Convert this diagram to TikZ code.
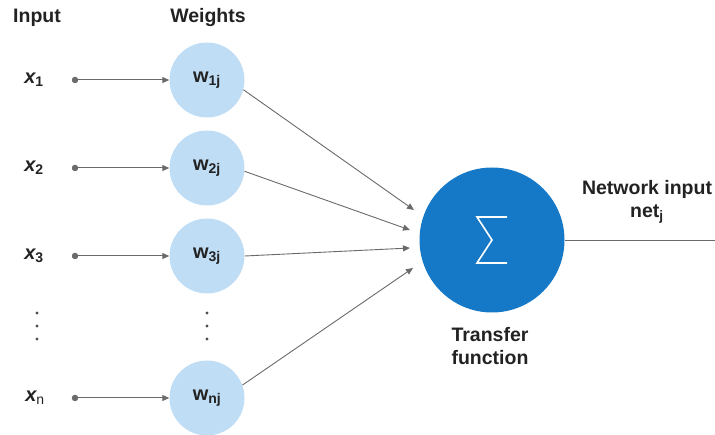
\documentclass[tikz,border=0pt]{standalone}
\usepackage{fontspec}
\setmainfont{Liberation Sans}
\usetikzlibrary{arrows.meta}
\definecolor{wfill}{HTML}{BFDDF5}
\definecolor{sfill}{HTML}{1679C8}
\definecolor{lgray}{HTML}{6A6A6A}
\definecolor{txt}{HTML}{222222}
\tikzset{
  lab/.style={font=\fontsize{19.5}{22}\selectfont\bfseries, text=txt, inner sep=0pt},
  xlab/.style={font=\fontsize{20}{22}\selectfont\bfseries\itshape, text=txt, inner sep=0pt},
  wnode/.style={circle, fill=wfill, minimum size=75pt, inner sep=0pt, font=\fontsize{20}{22}\selectfont\bfseries, text=txt},
  snode/.style={circle, fill=sfill, minimum size=145pt, inner sep=0pt},
  inarrow/.style={draw=lgray, line width=1pt, -{Triangle[length=7pt,width=6pt]}},
  conn/.style={draw=lgray, line width=0.9pt, -{Triangle[length=7pt,width=6pt]}},
  src/.style={circle, fill=lgray, minimum size=6.5pt, inner sep=0pt},
  vdot/.style={circle, fill=txt!80, minimum size=3.2pt, inner sep=0pt}
}
\begin{document}
\begin{tikzpicture}[x=1pt,y=-1pt]
\useasboundingbox (0,0) rectangle (715,435);
\node[lab] (tin) at (37,18) {Input};
\node[lab] (tw) at (208,18) {Weights};
% weight nodes
\node[wnode] (w1) at (207,80) {w\textsubscript{1j}};
\node[wnode] (w2) at (207,168) {w\textsubscript{2j}};
\node[wnode] (w3) at (207,256) {w\textsubscript{3j}};
\node[wnode] (wn) at (207,398) {w\textsubscript{nj}};
% input labels
\node[xlab] (x1) at (34,80) {x\textsubscript{\upshape 1}};
\node[xlab] (x2) at (34,168) {x\textsubscript{\upshape 2}};
\node[xlab] (x3) at (34,256) {x\textsubscript{\upshape 3}};
\node[xlab] (xn) at (35,398) {x\textsubscript{\upshape\mdseries n}};
% source dots
\node[src] (s1) at (75,80) {};
\node[src] (s2) at (75,168) {};
\node[src] (s3) at (75,256) {};
\node[src] (sn) at (75,398) {};
\draw[inarrow] (s1) -- (w1.west);
\draw[inarrow] (s2) -- (w2.west);
\draw[inarrow] (s3) -- (w3.west);
\draw[inarrow] (sn) -- (wn.west);
% vertical dots
\node[vdot] (d1) at (37,313) {};
\node[vdot] (d2) at (37,326) {};
\node[vdot] (d3) at (37,339) {};
\node[vdot] (e1) at (207,313) {};
\node[vdot] (e2) at (207,326) {};
\node[vdot] (e3) at (207,339) {};
% sum node
\node[snode] (S) at (492,240) {};
\draw[white, line width=1.6pt, line join=miter] (S.center) ++(15,-23) -- ++(-30,0) -- ++(15,23) -- ++(-15,23) -- ++(30,0);
\coordinate (t1) at (414,210);
\coordinate (t2) at (410,230);
\coordinate (t3) at (410,248);
\coordinate (t4) at (413,268);
\draw[conn] (w1.-15) -- (t1);
\draw[conn] (w2.-5) -- (t2);
\draw[conn] (w3.0) -- (t3);
\draw[conn] (wn.20) -- (t4);
% output
\coordinate (out) at (715,240);
\draw[draw=lgray, line width=0.9pt] (S.east) -- (out);
\node[lab] (ni) at (647,189) {Network input};
\node[lab] (nj) at (647,214) {net\textsubscript{j}};
\node[lab, align=center] (tf) at (490,346) {Transfer\\[1pt]function};
\end{tikzpicture}
\end{document}
